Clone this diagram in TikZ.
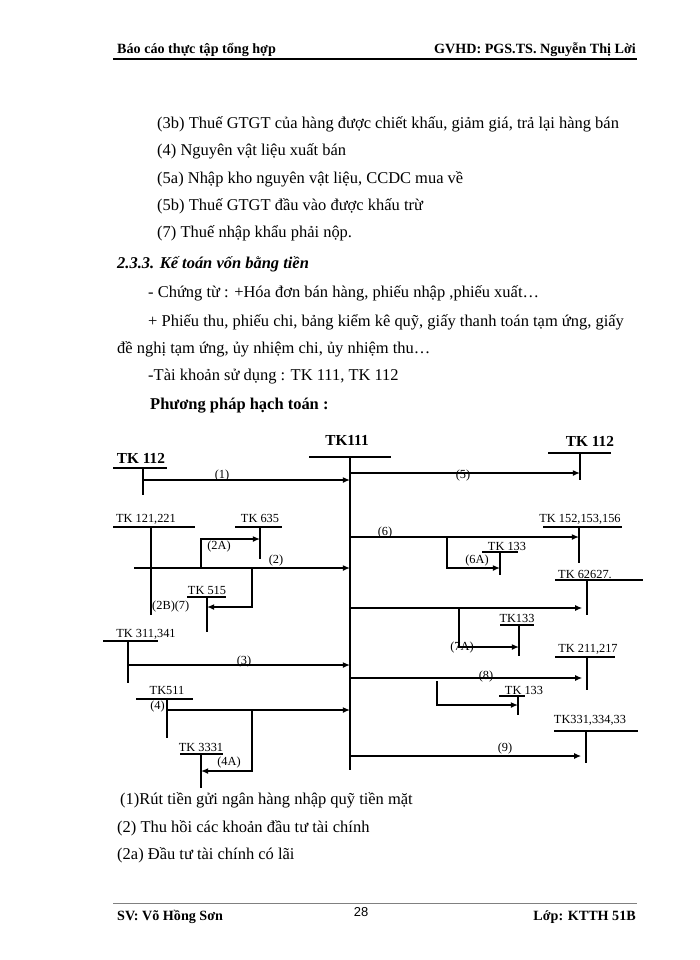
\documentclass[tikz,border=0pt]{standalone}
\usepackage{fontspec}
\setmainfont{Liberation Serif}
\newfontfamily\pagenumfont{Liberation Sans}
\usetikzlibrary{arrows.meta}

\begin{document}
\begin{tikzpicture}[x=0.85pt, y=-0.85pt,
    body/.style={anchor=base west, inner sep=0pt, font=\fontsize{14}{16}\selectfont},
    head/.style={inner sep=0pt, font=\fontsize{12}{14}\selectfont\bfseries},
    acct/.style={anchor=base, inner sep=0pt, font=\fontsize{10.5}{12}\selectfont},
    bigacct/.style={anchor=base, inner sep=0pt, font=\fontsize{13}{15}\selectfont\bfseries},
    num/.style={inner sep=0pt, font=\fontsize{10.5}{12}\selectfont},
    tline/.style={line width=1.4pt},
    flow/.style={line width=1.3pt, -{Latex[length=6pt, width=5pt]}}]

    \useasboundingbox (0,0) rectangle (700,960);

    % Header
    \node[head, anchor=base west] (hleft) at (117,53) {Báo cáo thực tập tổng hợp};
    \node[head, anchor=base east] (hright) at (636,53) {GVHD: PGS.TS. Nguyễn Thị Lời};
    \draw[line width=1pt] (113,59) -- (637,59);

    % Text above the diagram
    \node[body] (l3b) at (157,128) {(3b) Thuế GTGT của hàng được chiết khấu, giảm giá, trả lại hàng bán};
    \node[body] (l4) at (157,155) {(4) Nguyên vật liệu xuất bán};
    \node[body] (l5a) at (157,183) {(5a) Nhập kho nguyên vật liệu, CCDC mua về};
    \node[body] (l5b) at (157,210) {(5b) Thuế GTGT đầu vào được khấu trừ};
    \node[body] (l7) at (157,237) {(7) Thuế nhập khẩu phải nộp.};
    \node[body, font=\fontsize{14}{16}\selectfont\bfseries\itshape] (sec) at (117,268) {2.3.3. Kế toán vốn bằng tiền};
    \node[body] (ct) at (148,297) {- Chứng từ : +Hóa đơn bán hàng, phiếu nhập ,phiếu xuất…};
    \node[body] (pt) at (148,326) {+ Phiếu thu, phiếu chi, bảng kiểm kê quỹ, giấy thanh toán tạm ứng, giấy};
    \node[body] (dn) at (117,353) {đề nghị tạm ứng, ủy nhiệm chi, ủy nhiệm thu…};
    \node[body] (tk) at (148,380) {-Tài khoản sử dụng : TK 111, TK 112};
    \node[body, font=\fontsize{14}{16}\selectfont\bfseries] (pp) at (150,409) {Phương pháp hạch toán :};

    % Draw TK111
    \node[bigacct] (t111) at (347,445) {TK111};
    \draw[tline] (309,457) -- (391,457);
    \draw[tline] (350,457) coordinate (m111) -- (350,770);

    % Draw accounts on the left
    \node[bigacct] (t112l) at (141,463) {TK 112};
    \draw[tline] (113,468) -- (167,468);
    \draw[tline] (143,468) -- (143,495);

    \node[acct] (t121) at (146,522) {TK 121,221};
    \draw[tline] (113,527) -- (195,527);
    \draw[tline] (151,527) -- (151,615);

    \node[acct] (t635) at (260,522) {TK 635};
    \draw[tline] (235,527) -- (282,527);
    \draw[tline] (260,527) -- (260,559);

    \node[acct] (t515) at (207,594) {TK 515};
    \draw[tline] (187,597) -- (226,597);
    \draw[tline] (207,597) -- (207,632);

    \node[acct] (t311) at (146,637) {TK 311,341};
    \draw[tline] (103,641) -- (158,641);
    \draw[tline] (128,641) -- (128,683);

    \node[acct] (t511) at (167,694) {TK511};
    \draw[tline] (136,699) -- (193,699);
    \draw[tline] (167,699) -- (167,738);

    \node[acct] (t3331) at (201,751) {TK 3331};
    \draw[tline] (180,754) -- (223,754);
    \draw[tline] (201,754) -- (201,788);

    % Draw accounts on the right
    \node[bigacct] (t112r) at (590,446) {TK 112};
    \draw[tline] (548,453) -- (611,453);
    \draw[tline] (580,453) coordinate (s112) -- (580,480);

    \node[acct] (t152) at (580,522) {TK 152,153,156};
    \draw[tline] (543,527) -- (622,527);
    \draw[tline] (579,527) coordinate (s152) -- (579,563);

    \node[acct] (t133a) at (507,550) {TK 133};
    \draw[tline] (482,552) -- (518,552);
    \draw[tline] (500,552) -- (500,575);

    \node[acct] (t626) at (585,578) {TK 62627.};
    \draw[tline] (555,580) -- (643,580);
    \draw[tline] (587,580) coordinate (s626) -- (587,615);

    \node[acct] (t133b) at (517,622) {TK133};
    \draw[tline] (500,625) -- (534,625);
    \draw[tline] (519,625) -- (519,656);

    \node[acct] (t211) at (588,652) {TK 211,217};
    \draw[tline] (555,657) -- (615,657);
    \draw[tline] (587,657) coordinate (s211) -- (587,690);

    \node[acct] (t133c) at (524,694) {TK 133};
    \draw[tline] (499,696) -- (525,696);
    \draw[tline] (518,696) -- (518,715);

    \node[acct] (t331) at (590,723) {TK331,334,33};
    \draw[tline] (554,731) -- (638,731);
    \draw[tline] (586,731) coordinate (s331) -- (586,763);

    % Draw flows into TK111
    \coordinate (c1) at (143,480);
    \coordinate (c2) at (134,568);
    \coordinate (c3) at (128,665);
    \coordinate (c4) at (167,710);
    \draw[flow] (c1) -- (c1 -| m111);
    \draw[flow] (c2) -- (c2 -| m111);
    \draw[flow] (c3) -- (c3 -| m111);
    \draw[flow] (c4) -- (c4 -| m111);

    % Draw side branches on the left
    \coordinate (b2a) at (201,568);  \coordinate (e2a) at (260,539);
    \coordinate (b2b) at (252,568);  \coordinate (e2b) at (207,607);
    \coordinate (b4a) at (252,710);  \coordinate (e4a) at (201,771);
    \draw[flow] (b2a) |- (e2a);
    \draw[flow] (b2b) |- (e2b);
    \draw[flow] (b4a) |- (e4a);

    % Draw flows out of TK111
    \coordinate (c5) at (350,473);
    \coordinate (c6) at (350,537);
    \coordinate (c7) at (350,608);
    \coordinate (c8) at (350,678);
    \coordinate (c9) at (350,756);
    \draw[flow] (c5) -- (c5 -| s112);
    \draw[flow] (c6) -- (c6 -| s152);
    \draw[flow, shorten >=4pt] (c7) -- (c7 -| s626);
    \draw[flow, shorten >=4pt] (c8) -- (c8 -| s211);
    \draw[flow, shorten >=4pt] (c9) -- (c9 -| s331);

    % Draw side branches on the right
    \coordinate (b6a) at (447,537);  \coordinate (e6a) at (500,568);
    \coordinate (b7a) at (459,608);  \coordinate (e7a) at (519,647);
    \coordinate (b8a) at (437,681);  \coordinate (e8a) at (518,705);
    \draw[flow] (b6a) |- (e6a);
    \draw[flow] (b7a) |- (e7a);
    \draw[flow] (b8a) |- (e8a);

    % Labels on the flows
    \node[num] (n1) at (222,476) {(1)};
    \node[num] (n2) at (276,561) {(2)};
    \node[num] (n2a) at (219,547) {(2A)};
    \node[num, anchor=west] (n2b) at (152,607) {(2B)(7)};
    \node[num] (n3) at (244,662) {(3)};
    \node[num, anchor=east] (n4) at (165,707) {(4)};
    \node[num] (n4a) at (229,763) {(4A)};
    \node[num] (n5) at (463,476) {(5)};
    \node[num] (n6) at (385,533) {(6)};
    \node[num] (n6a) at (477,561) {(6A)};
    \node[num] (n7a) at (462,648) {(7A)};
    \node[num] (n8) at (486,677) {(8)};
    \node[num] (n9) at (505,749) {(9)};

    % Text below the diagram
    \node[body] (r1) at (120,804) {(1)Rút tiền gửi ngân hàng nhập quỹ tiền mặt};
    \node[body] (r2) at (117,832) {(2) Thu hồi các khoản đầu tư tài chính};
    \node[body] (r2a) at (117,859) {(2a) Đầu tư tài chính có lãi};

    % Footer
    \draw[line width=0.6pt, gray] (113,903) -- (637,903);
    \node[head, anchor=base west] (fleft) at (117,920) {SV: Võ Hồng Sơn};
    \node[inner sep=0pt, font=\fontsize{11}{13}\selectfont\pagenumfont] (page) at (361,912) {28};
    \node[head, anchor=base east] (fright) at (636,920) {Lớp: KTTH 51B};
\end{tikzpicture}
\end{document}
